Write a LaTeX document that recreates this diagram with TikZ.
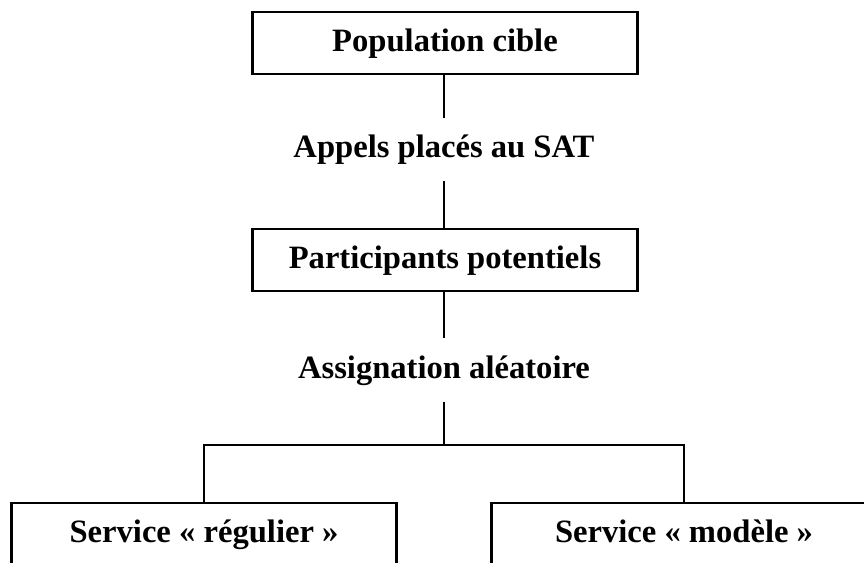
\documentclass[tikz,border=0pt]{standalone}
\usepackage{fontspec}
\setmainfont{Liberation Serif}
\usetikzlibrary{positioning}

\begin{document}
\begin{tikzpicture}[x=0.5pt,y=-0.5pt,
  boite/.style={draw,line width=1.2pt,minimum width=192.5pt,minimum height=31pt,inner sep=0pt,
    text height=11.5pt,text depth=3.5pt,font=\bfseries\fontsize{16.3}{19}\selectfont},
  etape/.style={minimum height=31.5pt,inner sep=0pt,text height=11.5pt,text depth=3.5pt,
    font=\bfseries\fontsize{16.3}{19}\selectfont},
  lien/.style={line width=0.75pt}]
 \useasboundingbox (0,0) rectangle (864,563);
 \clip (0,0) rectangle (864,563);
 \node[boite] (pop) at (445,43) {Population cible}; %haut
 \node[etape] (appels) at (444,149.5) {Appels placés au SAT};
 \node[boite] (part) at (445,260) {Participants potentiels};
 \node[etape] (assign) at (444,370) {Assignation aléatoire};
 \coordinate (split) at (444,445); %embranchement
 \node[boite] (reg) at (204,534) {Service « régulier »}; %bas gauche
 \node[boite] (mod) at (684,534) {Service « modèle »}; %bas droite
 \draw[lien] (pop.south -| appels) -- (appels.north);
 \draw[lien] (appels.south) -- (part.north -| appels);
 \draw[lien] (part.south -| assign) -- (assign.north);
 \draw[lien] (assign.south) -- (split);
 \draw[lien] (reg.north) |- (split) -| (mod.north);
\end{tikzpicture}
\end{document}
